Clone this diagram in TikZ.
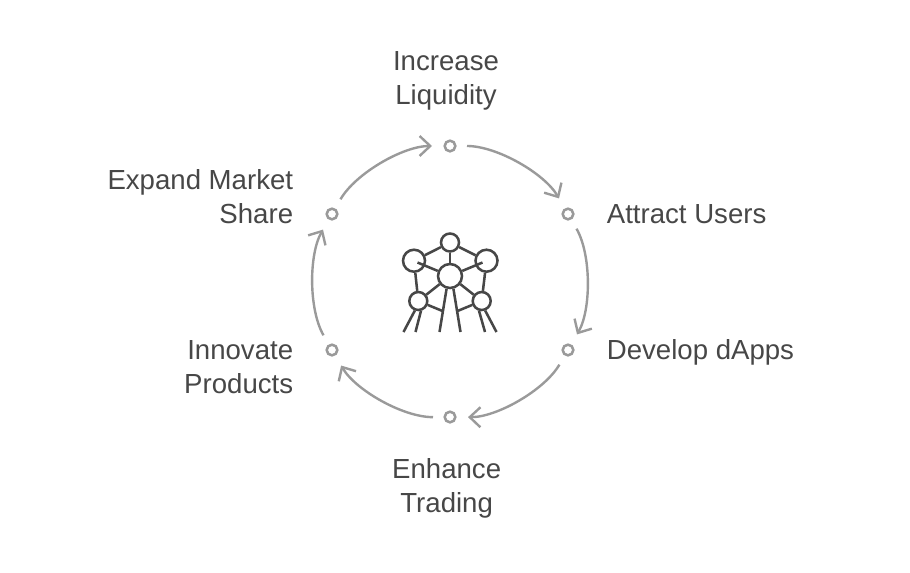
\documentclass[tikz,border=0pt]{standalone}
\usepackage{fontspec}
\setmainfont{Liberation Sans}
\usetikzlibrary{positioning, arrows.meta}
\definecolor{ringgray}{HTML}{9A9A9A}
\definecolor{textgray}{HTML}{474747}
\definecolor{icongray}{HTML}{474747}

\begin{document}
\begin{tikzpicture}[
    x=0.75pt, y=-0.75pt,
    dot/.style={draw=ringgray, line width=1.9pt, circle, inner sep=0pt, minimum size=8pt},
    arrow/.style={-{Straight Barb[length=8pt, width=15pt]}, draw=ringgray, line width=1.8pt, bend left=30, looseness=0.88, shorten <=12.75pt, shorten >=13.5pt},
    caption/.style={text=textgray, font=\fontsize{20.7}{25.5}\selectfont, inner sep=0pt},
    hub/.style={draw=icongray, line width=1.9pt, circle, inner sep=0pt},
    strut/.style={draw=icongray, line width=1.9pt}
]
\useasboundingbox (0,0) rectangle (910,572);

\node[dot] (liquidity) at (450,146) {};
\node[dot] (users) at (568,214) {};
\node[dot] (dapps) at (568,350) {};
\node[dot] (trading) at (450,417) {};
\node[dot] (products) at (332,350) {};
\node[dot] (market) at (332,214) {};

\node[caption, align=center, above=21.5pt of liquidity, xshift=-3pt] (t1) {Increase\\Liquidity};
\node[caption, right=24pt of users] (t2) {Attract Users};
\node[caption, right=24pt of dapps, yshift=-1.5pt] (t3) {Develop dApps};
\node[caption, align=center, below=26pt of trading, xshift=-2.5pt] (t4) {Enhance\\Trading};
\node[caption, align=right, left=24pt of products, yshift=-13pt] (t5) {Innovate\\Products};
\node[caption, align=right, left=24pt of market, yshift=13pt] (t6) {Expand Market\\Share};

\draw[arrow] (liquidity.center) to (users.center);
\draw[arrow] (users.center) to (dapps.center);
\draw[arrow] (dapps.center) to (trading.center);
\draw[arrow] (trading.center) to (products.center);
\draw[arrow] (products.center) to (market.center);
\draw[arrow] (market.center) to (liquidity.center);

% icon
\node[hub, minimum size=18pt] (core) at (450,276) {};
\node[hub, minimum size=13.5pt] (crown) at (450,242.5) {};
\node[hub, minimum size=16.5pt] (bigL) at (414,260.7) {};
\node[hub, minimum size=16.5pt] (bigR) at (486.5,260.7) {};
\node[hub, minimum size=13.5pt] (lowL) at (418.3,301) {};
\node[hub, minimum size=13.5pt] (lowR) at (481.7,301) {};

\coordinate (innerL) at (417.5,262.5);
\coordinate (innerR) at (482.5,262.5);
\coordinate (kneeL) at (442.5,311);
\coordinate (kneeR) at (457.5,311);
\coordinate (foot1) at (403.5,332);
\coordinate (foot2) at (415.5,332);
\coordinate (foot3) at (439.5,332);
\coordinate (foot4) at (460.5,332);
\coordinate (foot5) at (485,332);
\coordinate (foot6) at (496.5,332);

\draw[strut] (crown) -- (bigL);
\draw[strut] (crown) -- (bigR);
\draw[strut] (crown) -- (core);
\draw[strut] (innerL) -- (core);
\draw[strut] (innerR) -- (core);
\draw[strut] (bigL) -- (lowL);
\draw[strut] (bigR) -- (lowR);
\draw[strut] (core) -- (lowL);
\draw[strut] (core) -- (lowR);
\draw[strut] (lowL) -- (kneeL);
\draw[strut] (lowR) -- (kneeR);
\draw[strut] (lowL.250) -- (foot1);
\draw[strut] (lowL.285) -- (foot2);
\draw[strut] (core.255) -- (foot3);
\draw[strut] (core.285) -- (foot4);
\draw[strut] (lowR.255) -- (foot5);
\draw[strut] (lowR.290) -- (foot6);
\end{tikzpicture}
\end{document}
